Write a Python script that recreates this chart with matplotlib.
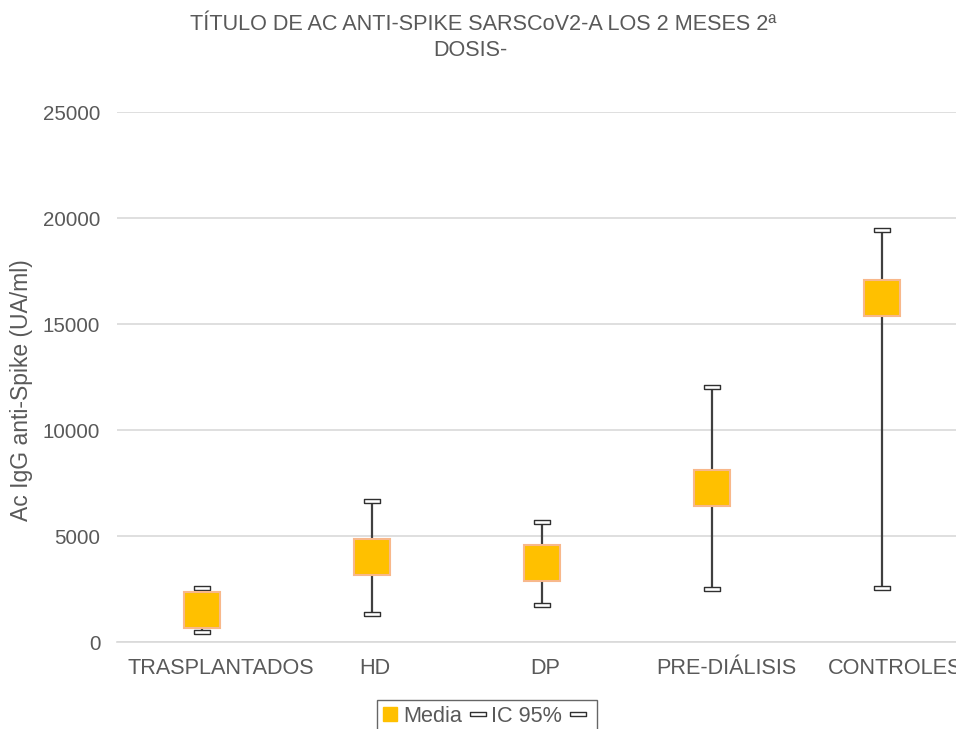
import matplotlib
matplotlib.use("Agg")
import matplotlib.pyplot as plt
from matplotlib.lines import Line2D
from matplotlib.transforms import blended_transform_factory, offset_copy

categories = ["TRASPLANTADOS", "HD", "DP", "PRE-DIÁLISIS", "CONTROLES"]
media = [1530, 3990, 3710, 7260, 16230]
ic_low = [470, 1320, 1760, 2520, 2530]
ic_high = [2550, 6670, 5650, 12040, 19450]
yticks = [0, 5000, 10000, 15000, 20000, 25000]
title_lines = ['TÍTULO DE AC ANTI-SPIKE SARSCoV2-A LOS 2 MESES 2ª', 'DOSIS-']

plt.rcParams['font.family'] = ['Liberation Sans', 'DejaVu Sans']
txt = '#595959'
fs = 15.6

fig = plt.figure(figsize=(9.56, 7.29), dpi=100)
ax = fig.add_axes([117/956, 1-642/729, 850/956, (642-112)/729])
x = list(range(len(categories)))

rect = [(-1, -0.25), (1, -0.25), (1, 0.25), (-1, 0.25), (-1, -0.25)]
for xi, lo, hi in zip(x, ic_low, ic_high):
    ax.plot([xi, xi], [lo, hi], color='#404040', lw=1.6, zorder=2, solid_capstyle='butt')
ax.plot(x, ic_high, ls='none', marker=rect, ms=12, mfc='white', mec='#303030', mew=1.0, zorder=3)
ax.plot(x, ic_low, ls='none', marker=rect, ms=12, mfc='white', mec='#303030', mew=1.0, zorder=3)
ax.plot(x, media, ls='none', marker='s', ms=25.5, mfc='#FFC000', mec='#F8B88B', mew=1.5, zorder=4)

ax.set_xlim(-0.5, len(categories) - 0.5)
ax.set_ylim(0, 25000)
ax.set_yticks(yticks)
ax.set_yticklabels([str(v) for v in yticks])
ax.set_xticks(x)
ax.set_xticklabels([])
ax.tick_params(axis='both', length=0, labelsize=14.8, colors=txt)
ax.tick_params(axis='y', pad=12)
ax.yaxis.grid(True, color='#d9d9d9', lw=1.2)
ax.set_axisbelow(True)
for s in ['top', 'right', 'left']:
    ax.spines[s].set_visible(False)
ax.spines['bottom'].set_color('#d9d9d9')
ax.spines['bottom'].set_linewidth(1.2)

# category labels (slightly shifted right like the reference rendering)
trans = blended_transform_factory(ax.transData, ax.transAxes)
labels = [ax.text(xi, -26/530, c, ha='center', va='center', fontsize=fs, color=txt,
                  transform=trans, clip_on=False) for xi, c in zip(x, categories)]
fig.canvas.draw()
r = fig.canvas.get_renderer()
for t in labels:
    w = t.get_window_extent(r).width
    t.set_transform(offset_copy(trans, fig=fig, x=0.1 * w, y=0, units='dots'))

ax.set_ylabel('Ac IgG anti-Spike (UA/ml)', fontsize=16.5, color=txt)
ax.yaxis.set_label_coords(-84/850, 0.475)

fig.text(483/956, 1-24/729, title_lines[0], ha='center', va='center', fontsize=fs, color=txt)
fig.text(470/956, 1-50/729, title_lines[1], ha='center', va='center', fontsize=fs, color=txt)

h1 = Line2D([], [], ls='none', marker='s', ms=10, mfc='#FFC000', mec='#FFC000')
h2 = Line2D([], [], ls='none', marker=rect, ms=12, mfc='white', mec='#303030', mew=1.0)
h3 = Line2D([], [], ls='none', marker=rect, ms=12, mfc='white', mec='#303030', mew=1.0)
leg = fig.legend([h1, h2, h3], ['Media', 'IC 95%', ''], loc='center',
                 bbox_to_anchor=(487/956, 1-716/729), ncol=3, fontsize=fs,
                 frameon=True, fancybox=False, edgecolor='#404040',
                 handlelength=0.7, handletextpad=0.25, columnspacing=0.4, borderpad=0.25)
for t in leg.get_texts():
    t.set_color(txt)
leg.get_frame().set_linewidth(1.0)

fig.savefig('out.png', dpi=100)
